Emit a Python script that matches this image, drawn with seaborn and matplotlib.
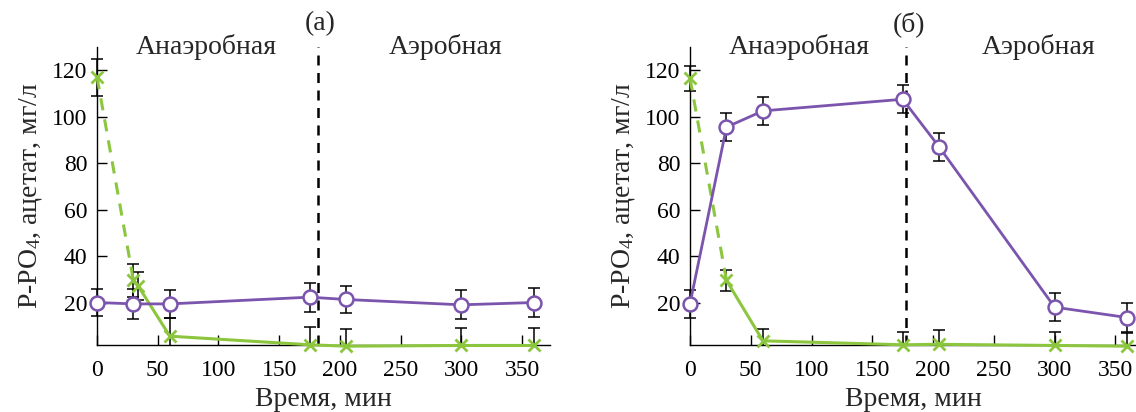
import matplotlib
matplotlib.use("Agg")
import matplotlib.pyplot as plt
import seaborn as sns
from matplotlib.patches import Rectangle

# panel (a)
time_a = [0, 30, 60, 175, 205, 300, 360]
po4_a = [20, 19.4, 19.4, 22.3, 21.3, 19, 20]
po4_a_err = [6, 6.5, 6, 6.3, 6, 6.2, 6.2]
acet_time_a = [0, 30, 34, 60, 175, 205, 300, 360]
acet_a = [117, 29.5, 27, 5.5, 1.8, 1.2, 1.5, 1.5]
acet_a_err = [8, 7, 6, 8, 7.5, 7.5, 7.5, 7.5]

# panel (б)
time_b = [0, 30, 60, 175, 205, 300, 360]
po4_b = [19.5, 95.5, 102.5, 107.5, 87, 18, 13.5]
po4_b_err = [6, 6, 6, 6, 6, 6, 6.2]
acet_time_b = [0, 30, 60, 175, 205, 300, 360]
acet_b = [116.5, 29.5, 3.5, 1.8, 2, 1.5, 1.2]
acet_b_err = [5.5, 4.5, 5, 5.5, 6, 6, 5.5]

x_ticks = [0, 50, 100, 150, 200, 250, 300, 350]
y_ticks = [20, 40, 60, 80, 100, 120]
phase_labels = ["Анаэробная", "Аэробная"]
panel_labels = ["(a)", "(б)"]
switch_time = [182, 178]

sns.set_style("ticks")
plt.rcParams["font.family"] = ["Liberation Serif", "DejaVu Serif"]
plt.rcParams["mathtext.fontset"] = "custom"
plt.rcParams["mathtext.rm"] = "Liberation Serif"
plt.rcParams["mathtext.it"] = "Liberation Serif"

PURPLE = "#7b55ad"
GREEN = "#8cc63f"
FS_TICK = 17
FS = 20

fig = plt.figure(figsize=(11.36, 4.12), dpi=100)
ax_a = fig.add_axes([0.0854, 0.1626, 0.3988, 0.7233])
ax_b = fig.add_axes([0.6074, 0.1626, 0.3926, 0.7233])

panels = [
    (ax_a, time_a, po4_a, po4_a_err, acet_time_a, acet_a, acet_a_err, 373),
    (ax_b, time_b, po4_b, po4_b_err, acet_time_b, acet_b, acet_b_err, 367),
]

for i, (ax, t, p, pe, ta, a, ae, xmax) in enumerate(panels):
    err_parts = []
    for xs, ys, es in [(ta, a, ae), (t, p, pe)]:
        eb = ax.errorbar(xs, ys, yerr=es, fmt="none", ecolor="black",
                         elinewidth=1.1, capsize=4.5, capthick=1.1, zorder=2)
        err_parts += list(eb.lines[1]) + list(eb.lines[2])

    # acetate: dashed first drop, then solid
    sns.lineplot(x=ta[:2], y=a[:2], ax=ax, color=GREEN, lw=2.2,
                 linestyle=(0, (4, 3)), zorder=3)
    sns.lineplot(x=ta[1:], y=a[1:], ax=ax, color=GREEN, lw=2.2, zorder=3)
    ax.plot(ta, a, linestyle="none", marker="x", ms=8, mew=2,
            color=GREEN, zorder=4)

    # P-PO4
    sns.lineplot(x=t, y=p, ax=ax, color=PURPLE, lw=2, zorder=4,
                 marker="o", markersize=10, markerfacecolor="white",
                 markeredgecolor=PURPLE, markeredgewidth=1.8)
    for line in ax.lines:
        line.set_clip_on(False)

    # error bars: cut at the x axis, keep caps at x=0 whole
    clip_box = Rectangle((-0.05, 0), 1.1, 1.2, transform=ax.transAxes,
                         visible=False)
    ax.add_patch(clip_box)
    for art in err_parts:
        art.set_clip_on(True)
        art.set_clip_path(clip_box)

    ax.axvline(switch_time[i], color="black", lw=1.8,
               linestyle=(0, (4, 3)), zorder=1)

    ax.set_xlim(0, xmax)
    ax.set_ylim(1.7, 130)
    ax.set_xticks(x_ticks)
    ax.set_yticks(y_ticks)
    ax.tick_params(direction="in", length=7, width=1, labelsize=FS_TICK,
                   colors="black")
    ax.tick_params(axis="x", pad=11)
    ax.tick_params(axis="y", pad=7)
    for s in ["top", "right"]:
        ax.spines[s].set_visible(False)
    for s in ["left", "bottom"]:
        ax.spines[s].set_color("black")
        ax.spines[s].set_linewidth(1)

    ax.set_xlabel("Время, мин", fontsize=FS, labelpad=4)
    ax.set_ylabel("P-PO$_\\mathregular{4}$, ацетат, мг/л", fontsize=FS,
                  labelpad=6)

    ax.text(90, 130, phase_labels[0], ha="center", va="center", fontsize=FS)
    ax.text(287, 130, phase_labels[1], ha="center", va="center",
            fontsize=FS)
    ax.text(switch_time[i] + 2, 140, panel_labels[i], ha="center",
            va="center", fontsize=FS, clip_on=False)

fig.savefig("out.png", dpi=100)
